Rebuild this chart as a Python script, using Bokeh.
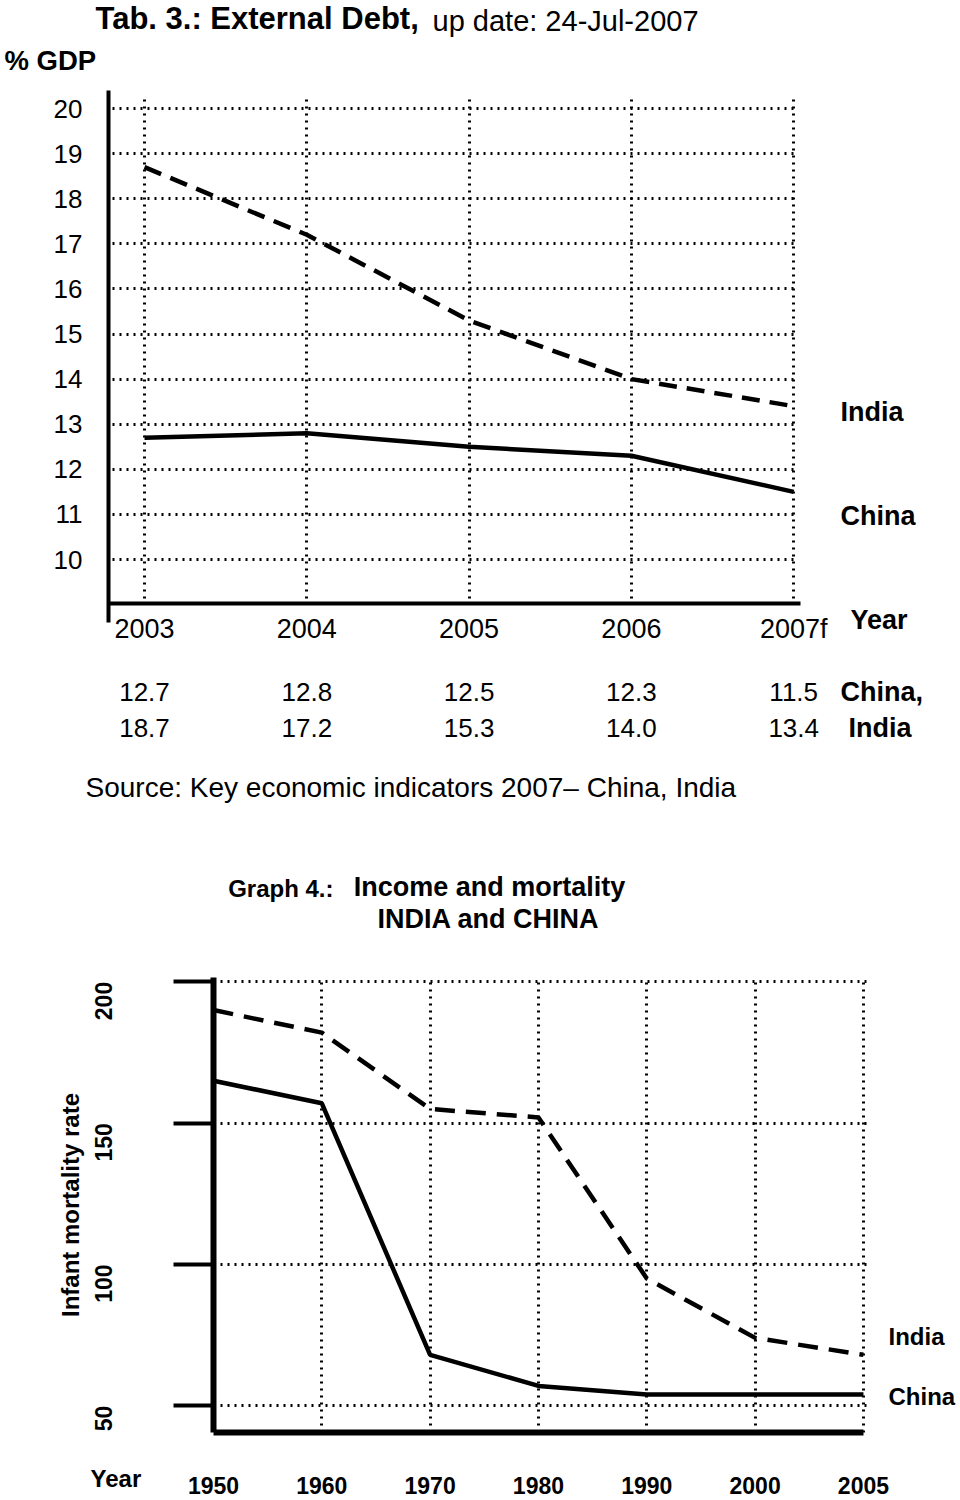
import math
from bokeh.plotting import figure
from bokeh.models import FixedTicker, Label, Range1d
from bokeh.embed import file_html
from bokeh.resources import INLINE

# ---------------- data: Tab. 3 External Debt (% GDP) ----------------
debt_years = [2003, 2004, 2005, 2006, 2007]
debt_year_labels = ["2003", "2004", "2005", "2006", "2007f"]
china_debt = [12.7, 12.8, 12.5, 12.3, 11.5]
india_debt = [18.7, 17.2, 15.3, 14.0, 13.4]
debt_ticks = [10, 11, 12, 13, 14, 15, 16, 17, 18, 19, 20]

# ---------------- data: Graph 4 Infant mortality ----------------
mort_years = ["1950", "1960", "1970", "1980", "1990", "2000", "2005"]
india_mort = [190, 182, 155, 152, 95, 74, 68]
china_mort = [165, 157, 68, 57, 54, 54, 54]
mort_ticks = [50, 100, 150, 200]

FONT = "Liberation Sans"


def add_label(p, H, x, y, text, size, bold=False, align="left", x_data=False):
    """x, y in pixels from the figure's top-left (x may be a data value)."""
    p.add_layout(Label(
        x=x, y=H - y,
        x_units="data" if x_data else "screen", y_units="screen",
        text=text, text_font=FONT, text_font_size=f"{size}px",
        text_font_style="bold" if bold else "normal",
        text_align=align, text_baseline="middle", text_color="black"))


def style_grid(p, g, ticks, cross):
    g.ticker = FixedTicker(ticks=ticks)
    g.grid_line_color = "black"
    g.grid_line_width = 3
    g.grid_line_dash = "2 5"
    g.grid_line_alpha = 1.0
    g.cross_bounds = cross


def base_fig(w, h, xr, yr):
    p = figure(width=w, height=h, min_border=0, x_range=xr, y_range=yr,
               output_backend="svg", toolbar_location=None)
    p.outline_line_color = None
    p.background_fill_color = "white"
    p.border_fill_color = "white"
    return p


# ================= top figure (frame = whole canvas) =================
H1 = 840
p1 = base_fig(960, H1, Range1d(2002.1128, 2008.0277), Range1d(3.7694, 22.3947))

p1.line(debt_years, india_debt, line_color="black", line_width=4.5, line_dash="18 10")
p1.line(debt_years, china_debt, line_color="black", line_width=4.5)

ax = p1.xaxis[0]
ax.fixed_location = 9.024
ax.bounds = (2002.778, 2007.043)
ax.ticker = FixedTicker(ticks=debt_years)
ax.major_label_overrides = {y: l for y, l in zip(debt_years, debt_year_labels)}
ax.axis_line_width = 4
ax.axis_line_color = "black"
ax.major_tick_line_color = None
ax.minor_tick_line_color = None
ax.major_label_standoff = 4
ax.major_label_text_font = FONT
ax.major_label_text_font_size = "27px"
ax.major_label_text_color = "black"

ay = p1.yaxis[0]
ay.fixed_location = 2002.778
ay.bounds = (8.603, 20.399)
ay.ticker = FixedTicker(ticks=debt_ticks)
ay.axis_line_width = 4
ay.axis_line_color = "black"
ay.major_tick_line_color = None
ay.minor_tick_line_color = None
ay.major_label_standoff = 20
ay.major_label_text_font = FONT
ay.major_label_text_font_size = "26px"
ay.major_label_text_color = "black"

style_grid(p1, p1.xgrid[0], debt_years, (9.13, 20.3))
style_grid(p1, p1.ygrid[0], debt_ticks, (2002.80, 2007.01))

add_label(p1, H1, 95, 18, "Tab. 3.: External Debt,", 31, bold=True)
add_label(p1, H1, 432, 20, "up date: 24-Jul-2007", 29)
add_label(p1, H1, 4, 60, "% GDP", 27.5, bold=True)
add_label(p1, H1, 840, 411, "India", 27, bold=True)
add_label(p1, H1, 840, 515, "China", 27, bold=True)
add_label(p1, H1, 850, 619, "Year", 27, bold=True)
for yr, c, i in zip(debt_years, china_debt, india_debt):
    add_label(p1, H1, yr, 691, f"{c:.1f}", 26, align="center", x_data=True)
    add_label(p1, H1, yr, 727, f"{i:.1f}", 26, align="center", x_data=True)
add_label(p1, H1, 840, 691, "China,", 27, bold=True)
add_label(p1, H1, 848, 727, "India", 27, bold=True)
add_label(p1, H1, 85, 787, "Source: Key economic indicators 2007\u2013 China, India", 28)

# ================= bottom figure (frame = whole canvas) =================
H2 = 660
TOP2 = 840  # page y where the bottom figure starts
mort_pos = list(range(len(mort_years)))  # categorical positions of the years
p2 = base_fig(960, H2, Range1d(-1.966, 6.896), Range1d(16.45, 250.0))

p2.line(mort_pos, india_mort, line_color="black", line_width=4.5, line_dash="20 11")
p2.line(mort_pos, china_mort, line_color="black", line_width=4.5)

bx = p2.xaxis[0]
bx.fixed_location = 40.5
bx.bounds = (mort_pos[0], mort_pos[-1])
bx.ticker = FixedTicker(ticks=mort_pos)
bx.major_label_overrides = {i: y for i, y in zip(mort_pos, mort_years)}
bx.axis_line_width = 6
bx.axis_line_color = "black"
bx.major_tick_line_color = None
bx.minor_tick_line_color = None
bx.major_label_standoff = 38
bx.major_label_text_font = FONT
bx.major_label_text_font_size = "23px"
bx.major_label_text_font_style = "bold"
bx.major_label_text_color = "black"

by = p2.yaxis[0]
by.fixed_location = mort_pos[0]
by.bounds = (40.5, 201.5)
by.ticker = FixedTicker(ticks=mort_ticks)
by.axis_line_width = 6
by.axis_line_color = "black"
by.major_tick_out = 40
by.major_tick_in = 0
by.major_tick_line_width = 4
by.major_tick_line_color = "black"
by.minor_tick_line_color = None
by.major_label_orientation = math.pi / 2
by.major_label_standoff = 70
by.major_label_text_font = FONT
by.major_label_text_font_size = "23px"
by.major_label_text_font_style = "bold"
by.major_label_text_color = "black"
by.axis_label = "Infant mortality rate"
by.axis_label_text_font = FONT
by.axis_label_text_font_size = "24px"
by.axis_label_text_font_style = "bold"
by.axis_label_text_color = "black"
by.axis_label_standoff = 0

style_grid(p2, p2.xgrid[0], mort_pos[1:], (40.5, 201.5))
style_grid(p2, p2.ygrid[0], mort_ticks, (mort_pos[0], mort_pos[-1] + 0.05))


def add2(x, y, text, size, bold=True, align="left"):
    add_label(p2, H2, x, y - TOP2, text, size, bold=bold, align=align)


add2(333, 888, "Graph 4.:", 24, align="right")
add2(489, 886, "Income and mortality", 27, align="center")
add2(488, 918, "INDIA and CHINA", 27, align="center")
add2(90, 1478, "Year", 24)
add2(888, 1336, "India", 24)
add2(888, 1396, "China", 24)

open("out.html", "w").write(file_html((p1, p2), INLINE))
